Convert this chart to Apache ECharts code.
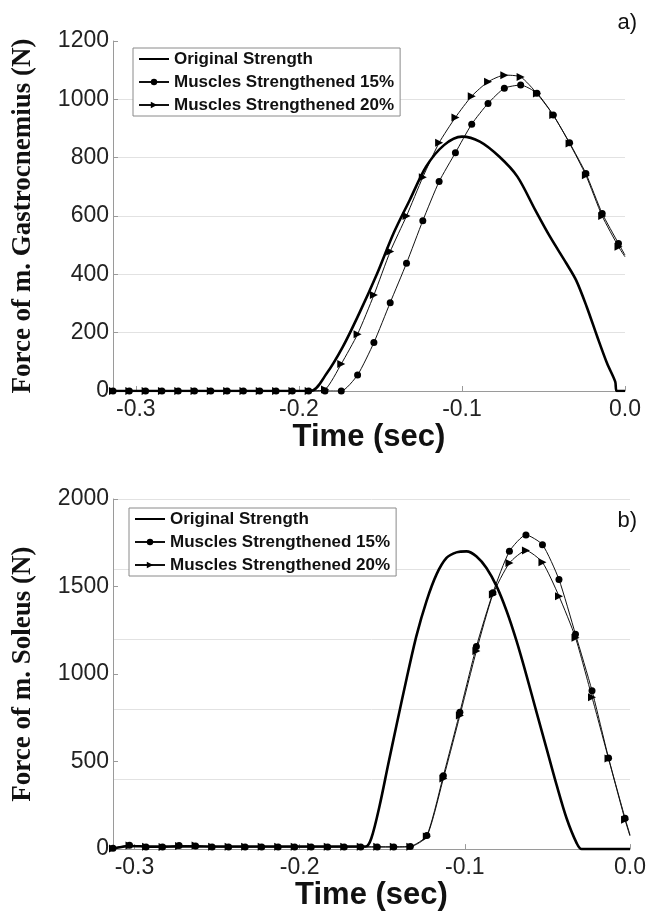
<!DOCTYPE html>
<html>
<head>
<meta charset="utf-8">
<script src="https://cdn.jsdelivr.net/npm/echarts@6/dist/echarts.min.js"></script>
<style>
  html, body { margin: 0; padding: 0; background: #fff; }
  #chart { width: 651px; height: 912px; }
</style>
</head>
<body>
<div id="chart"></div>
<script>
// ---- Gastrocnemius (panel a) ----
const gasTime = [-0.314, -0.304, -0.294, -0.284, -0.274, -0.264, -0.254, -0.244, -0.234, -0.224, -0.214,
  -0.204, -0.194, -0.184, -0.174, -0.164, -0.154, -0.144, -0.134, -0.124, -0.114, -0.104, -0.094,
  -0.084, -0.074, -0.064, -0.054, -0.044, -0.034, -0.024, -0.014, -0.004, 0.0];
const gas15 = [0, 0, 0, 0, 0, 0, 0, 0, 0, 0, 0, 0, 0, 0, 0, 55, 166, 303, 438, 584, 718, 817, 915,
  986, 1038, 1049, 1021, 946, 851, 746, 609, 506, 466];
const gas20 = [0, 0, 0, 0, 0, 0, 0, 0, 0, 0, 0, 0, 0, 5, 93, 195, 329, 478, 600, 733, 851, 938, 1011,
  1060, 1083, 1077, 1020, 946, 849, 740, 600, 495, 460];
const gasOrigTime = [-0.314, -0.193, -0.183, -0.173, -0.163, -0.152, -0.142, -0.132, -0.122, -0.111,
  -0.100, -0.089, -0.077, -0.066, -0.055, -0.046, -0.036, -0.030, -0.0235, -0.017, -0.011, -0.006, -0.005, 0.0];
const gasOrig = [0, 0, 60, 152, 266, 403, 540, 655, 769, 843, 872, 855, 803, 735, 620, 529, 438, 380,
  289, 186, 95, 32, 0, 0];

// ---- Soleus (panel b) ----
const solTime = [-0.313, -0.303, -0.293, -0.283, -0.273, -0.263, -0.253, -0.243, -0.233, -0.223, -0.213,
  -0.203, -0.193, -0.183, -0.173, -0.163, -0.153, -0.143, -0.133, -0.123, -0.113, -0.103, -0.093,
  -0.083, -0.073, -0.063, -0.053, -0.043, -0.033, -0.023, -0.013, -0.003, 0.0];
const sol15 = [5, 22, 12, 12, 20, 18, 12, 12, 12, 12, 12, 12, 12, 12, 12, 12, 12, 12, 15, 78, 419, 782,
  1157, 1464, 1701, 1795, 1739, 1540, 1227, 905, 521, 176, 81];
const sol20 = [3, 20, 14, 12, 18, 20, 14, 13, 13, 13, 13, 13, 13, 13, 13, 13, 13, 13, 14, 72, 403, 763,
  1132, 1455, 1634, 1706, 1638, 1445, 1208, 868, 517, 167, 75];
const solOrigTime = [-0.313, -0.303, -0.29, -0.25, -0.2, -0.16, -0.1566, -0.1515, -0.1465, -0.1414,
  -0.1353, -0.1293, -0.1232, -0.1172, -0.1111, -0.1051, -0.099, -0.0929, -0.0869, -0.0808, -0.0747,
  -0.0687, -0.0626, -0.0566, -0.0505, -0.0444, -0.0384, -0.0323, -0.0293, 0.0];
const solOrig = [3, 18, 14, 15, 15, 15, 62, 252, 479, 706, 972, 1218, 1417, 1568, 1663, 1695, 1701,
  1672, 1606, 1502, 1360, 1189, 990, 782, 574, 365, 176, 34, 0, 0];

// ---- axis ticks ----
const timeTicks = [-0.3, -0.2, -0.1, 0.0];
const names = ['Original Strength', 'Muscles Strengthened 15%', 'Muscles Strengthened 20%'];

const SANS = 'Liberation Sans, Arial, sans-serif';
const SERIF = 'Liberation Serif, Times New Roman, serif';
const AXIS_GRAY = '#9a9a9a';
const GRID_GRAY = '#e2e2e2';

function pairs(xs, ys) { return xs.map((x, i) => [x, ys[i]]); }
// marker series: the final sample at t = 0 carries no marker
function marked(xs, ys) {
  return xs.map((x, i) => i === xs.length - 1 ? { value: [x, ys[i]], symbol: 'none' } : [x, ys[i]]);
}

function timeAxis(grid, min) {
  return {
    gridIndex: grid, type: 'value', min: min, max: 0,
    axisLine: { show: true, onZero: false, lineStyle: { color: AXIS_GRAY, width: 1 } },
    axisTick: { show: true, inside: true, length: 5, customValues: timeTicks, lineStyle: { color: AXIS_GRAY } },
    axisLabel: { customValues: timeTicks, formatter: v => v.toFixed(1), fontFamily: SANS, fontSize: 23, color: '#222', margin: 7 },
    splitLine: { show: false },
    name: 'Time (sec)', nameLocation: 'middle', nameGap: 26,
    nameTextStyle: { fontFamily: SANS, fontSize: 31, fontWeight: 'bold', color: '#111' }
  };
}

function forceAxis(grid, max, step, title, gridColors) {
  return {
    gridIndex: grid, type: 'value', min: 0, max: max, interval: step, position: 'left',
    axisLine: { show: true, onZero: false, lineStyle: { color: AXIS_GRAY, width: 1 } },
    axisTick: { show: true, inside: true, length: 5, lineStyle: { color: AXIS_GRAY } },
    axisLabel: { formatter: v => String(v), fontFamily: SANS, fontSize: 23, color: '#222', margin: 4 },
    splitLine: gridColors ? { show: true, lineStyle: { color: gridColors, width: 1 } } : { show: false },
    name: title, nameLocation: 'middle', nameGap: 76, nameRotate: 90,
    nameTextStyle: { fontFamily: SERIF, fontSize: 27, fontWeight: 'bold', color: '#111' }
  };
}

function lineSeries(name, xi, yi, data, kind) {
  const base = {
    name: name, type: 'line', xAxisIndex: xi, yAxisIndex: yi, data: data,
    smooth: 0.2, animation: false, color: '#000'
  };
  if (kind === 'orig') {
    return Object.assign(base, { smooth: 0.3, symbol: 'none', showSymbol: false, lineStyle: { width: 2.6, color: '#000' }, z: 3 });
  }
  if (kind === 'circle') {
    return Object.assign(base, { symbol: 'circle', symbolSize: 7, showSymbol: true, showAllSymbol: true,
      itemStyle: { color: '#000' }, lineStyle: { width: 1, color: '#111' }, z: 2 });
  }
  return Object.assign(base, { symbol: 'triangle', symbolSize: 8, symbolRotate: -90, showSymbol: true, showAllSymbol: true,
    itemStyle: { color: '#000' }, lineStyle: { width: 1, color: '#111' }, z: 2 });
}

function legendAt(left, top) {
  return {
    data: [
      { name: names[0], itemStyle: { opacity: 0 } },
      { name: names[1] },
      { name: names[2] }
    ],
    orient: 'vertical', left: left, top: top,
    itemWidth: 30, itemHeight: 8, itemGap: 5, padding: [2, 6, 2, 5],
    borderColor: '#8a8a8a', borderWidth: 1, backgroundColor: '#fff',
    selectedMode: false,
    textStyle: { fontFamily: SANS, fontSize: 17, fontWeight: 'bold', color: '#111', lineHeight: 18 }
  };
}

const chart = echarts.init(document.getElementById('chart'), null, { renderer: 'canvas' });
chart.setOption({
  backgroundColor: '#fff',
  animation: false,
  grid: [
    { left: 113, top: 41, width: 512, height: 350 },
    { left: 113, top: 499, width: 517, height: 352 }
  ],
  xAxis: [timeAxis(0, -0.314), timeAxis(1, -0.313)],
  yAxis: [
    forceAxis(0, 1200, 200, 'Force of m. Gastrocnemius (N)',
      [GRID_GRAY, GRID_GRAY, GRID_GRAY, GRID_GRAY, GRID_GRAY, GRID_GRAY, 'rgba(0,0,0,0)']),
    forceAxis(1, 2000, 500, 'Force of m. Soleus (N)', null),
    // gridline-only axis for panel b (400 N spacing)
    { gridIndex: 1, type: 'value', min: 0, max: 2000, interval: 400, position: 'left',
      axisLine: { show: false, onZero: false }, axisTick: { show: false }, axisLabel: { show: false },
      splitLine: { show: true, lineStyle: { color: GRID_GRAY, width: 1 } } }
  ],
  legend: [legendAt(133, 48), legendAt(129, 508)],
  series: [
    lineSeries(names[0], 0, 0, pairs(gasOrigTime, gasOrig), 'orig'),
    lineSeries(names[1], 0, 0, marked(gasTime, gas15), 'circle'),
    lineSeries(names[2], 0, 0, marked(gasTime, gas20), 'tri'),
    lineSeries(names[0], 1, 1, pairs(solOrigTime, solOrig), 'orig'),
    lineSeries(names[1], 1, 1, marked(solTime, sol15), 'circle'),
    lineSeries(names[2], 1, 1, marked(solTime, sol20), 'tri')
  ],
  graphic: [
    { type: 'text', right: 14, top: 12, style: { text: 'a)', font: '22px ' + SANS, fill: '#111' } },
    { type: 'text', right: 14, top: 510, style: { text: 'b)', font: '22px ' + SANS, fill: '#111' } }
  ]
});
</script>
</body>
</html>
